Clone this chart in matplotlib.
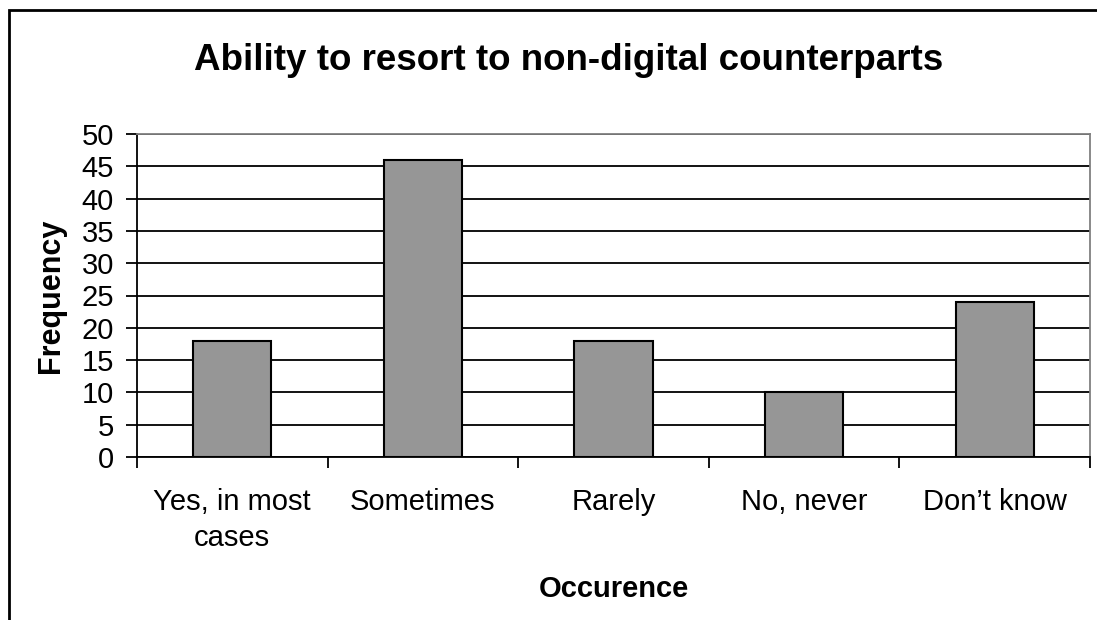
import numpy as np
import matplotlib.pyplot as plt
from matplotlib.patches import Rectangle

categories = ["Yes, in most\ncases", "Sometimes", "Rarely", "No, never", "Don\u2019t know"]
frequency = [18, 46, 18, 10, 24]
yticks = [0, 5, 10, 15, 20, 25, 30, 35, 40, 45, 50]

plt.rcParams['font.family'] = ['Liberation Sans', 'DejaVu Sans']

fig = plt.figure(figsize=(10.97, 6.20), dpi=100)
# outer chart border (clipped at right/bottom like the original)
fig.patches.append(Rectangle((9 / 1097, -0.1), 1.2, 1 - 10 / 620 + 0.1,
                             transform=fig.transFigure, fill=False,
                             edgecolor='black', linewidth=2))

ax = fig.add_axes([137 / 1097, 1 - 457 / 620, (1090 - 137) / 1097, (457 - 134) / 620])
x = np.arange(len(categories))
ax.bar(x, frequency, width=0.41, color='#969696', edgecolor='black', linewidth=1.5, zorder=3)

ax.set_xlim(-0.5, len(categories) - 0.5)
ax.set_ylim(0, 50)
ax.set_yticks(yticks)
ax.set_yticklabels([str(v) for v in yticks], fontsize=21)
ax.yaxis.grid(True, color='black', linewidth=1.3, zorder=0)
ax.set_axisbelow(True)

# ticks at category boundaries, labels centered
ax.set_xticks(np.arange(-0.5, len(categories), 1.0))
ax.set_xticklabels([])
ax.set_xticks(x, minor=True)
ax.set_xticklabels(categories, minor=True, fontsize=21, linespacing=1.4)
ax.tick_params(axis='x', which='minor', length=0, pad=22)
ax.tick_params(axis='x', which='major', length=8, width=1.3, direction='out')
ax.tick_params(axis='y', length=8, width=1.3, direction='out', pad=8.5)

for s in ['top', 'right']:
    ax.spines[s].set_color('#808080')
    ax.spines[s].set_linewidth(1.3)
for s in ['left', 'bottom']:
    ax.spines[s].set_color('black')
    ax.spines[s].set_linewidth(1.3)

ax.set_ylabel("Frequency", fontsize=22, fontweight='bold', labelpad=11)
ax.set_xlabel("Occurence", fontsize=21, fontweight='bold', labelpad=16)
fig.text(569 / 1097, 1 - 60 / 620, "Ability to resort to non-digital counterparts",
         ha='center', va='center', fontsize=26.5, fontweight='bold')

fig.savefig("out.png", dpi=100)
